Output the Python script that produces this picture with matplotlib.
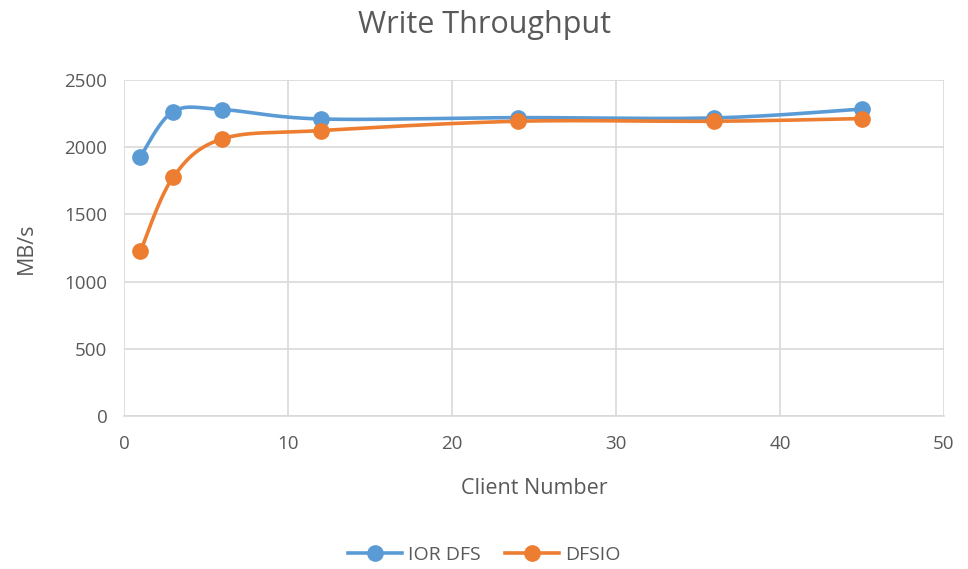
import matplotlib.pyplot as plt
import numpy as np

plt.rcParams['font.family'] = ['Open Sans', 'DejaVu Sans']

clients = [1, 3, 6, 12, 24, 36, 45]
ior_dfs = [1930, 2265, 2280, 2210, 2220, 2218, 2284]
dfsio = [1225, 1777, 2062, 2124, 2193, 2193, 2213]

x_ticks = [0, 10, 20, 30, 40, 50]
y_ticks = [0, 500, 1000, 1500, 2000, 2500]

BLUE = '#5B9BD5'
ORANGE = '#ED7D31'
TEXT = '#595959'
GRID = '#D9D9D9'


# Excel-like smoothed line: uniform Catmull-Rom through the points
def smooth(xs, ys, steps=40):
    P = np.column_stack([xs, ys]).astype(float)
    P = np.vstack([P[0], P, P[-1]])
    out = []
    t = np.linspace(0, 1, steps)[:, None]
    for i in range(1, len(P) - 2):
        p0, p1, p2, p3 = P[i - 1], P[i], P[i + 1], P[i + 2]
        seg = 0.5 * ((2 * p1) + (-p0 + p2) * t +
                     (2 * p0 - 5 * p1 + 4 * p2 - p3) * t ** 2 +
                     (-p0 + 3 * p1 - 3 * p2 + p3) * t ** 3)
        out.append(seg)
    out = np.vstack(out)
    return out[:, 0], out[:, 1]


fig = plt.figure(figsize=(9.68, 5.69), dpi=100)
ax = fig.add_axes([124 / 968, 1 - 416 / 569, 820 / 968, 336 / 569])

for ys, col, name in [(ior_dfs, BLUE, 'IOR DFS'), (dfsio, ORANGE, 'DFSIO')]:
    sx, sy = smooth(clients, ys)
    ax.plot(sx, sy, color=col, lw=2.6, solid_capstyle='round', zorder=3)
    ax.plot(clients, ys, 'o', color=col, ms=11, zorder=4)
    ax.plot([], [], '-o', color=col, lw=2.6, ms=11, label=name)

ax.set_xlim(0, 50)
ax.set_ylim(0, 2500)
ax.set_xticks(x_ticks)
ax.set_yticks(y_ticks)
ax.grid(True, color=GRID, lw=1.2)
ax.set_axisbelow(True)
for s in ['top', 'right', 'left']:
    ax.spines[s].set_visible(False)
ax.spines['bottom'].set_color(GRID)
ax.spines['bottom'].set_linewidth(1.2)
ax.tick_params(length=0, labelsize=13.5, labelcolor=TEXT)
ax.tick_params(axis='x', pad=14)
ax.tick_params(axis='y', pad=12)

fig.text(0.5, 1 - 25 / 569, 'Write Throughput', fontsize=22, color=TEXT,
         ha='center', va='center')
ax.set_xlabel('Client Number', fontsize=15.5, color=TEXT, labelpad=18)
ax.set_ylabel('MB/s', fontsize=15.5, color=TEXT, labelpad=20)

fig.legend(loc='center', ncol=2, frameon=False, fontsize=14,
           labelcolor=TEXT, bbox_to_anchor=(0.5, 1 - 555 / 569),
           handlelength=2.8, handletextpad=0.3, columnspacing=1.25)

fig.savefig('out.png', dpi=100)
